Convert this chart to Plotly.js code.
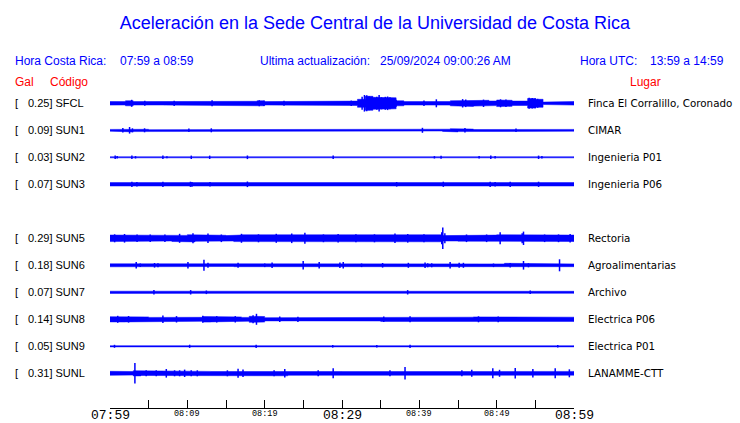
<!DOCTYPE html>
<html>
<head>
<meta charset="utf-8">
<script src="https://cdn.plot.ly/plotly-3.0.1.min.js"></script>
<style>html,body{margin:0;padding:0;background:#fff;}#chart{width:740px;height:423px;}</style>
</head>
<body>
<div id="chart"></div>
<script>
// ---------------- DATA ----------------
const rowCodes  = ['SFCL','SUN1','SUN2','SUN3','SUN4','SUN5','SUN6','SUN7','SUN8','SUN9','SUNL'];
const peakGal   = [0.25, 0.09, 0.03, 0.07, null, 0.29, 0.18, 0.07, 0.14, 0.05, 0.31];
const places    = ['Finca El Corralillo, Coronado','CIMAR','Ingenieria P01','Ingenieria P06', null,
                   'Rectoria','Agroalimentarias','Archivo','Electrica P06','Electrica P01','LANAMME-CTT'];
const tickMinutes = [0,10,20,30,40,50,60];
const tickLabels  = ['07:59','08:09','08:19','08:29','08:39','08:49','08:59'];
const minorTickMinutes = [5,15,25,35,45,55];

// Envelope half-amplitude for each 1-minute window (amplitude units)
const env_SFCL = [1.8,1.7,2.5,1.7,1.8,1.7,1.7,1.8,2.2,2.0, 1.8,2.0,1.8,2.3,2.0,1.8,1.8,1.8,2.0,2.5,
                  1.7,2.0,2.2,1.8,2.0,2.0,2.0,1.8,1.7,1.7, 1.8,2.2,4.0,7.0,6.0,6.0,5.5,2.5,1.7,1.8,
                  2.2,2.2,2.0,1.8,2.5,3.2,3.2,2.8,3.0,2.3, 3.3,3.0,2.2,2.2,4.8,4.0,1.2,1.7,1.8,1.8];
const env_SUN1 = [0.9,1.2,1.6,1.3,1.0,0.6,1.1,0.8,0.7,1.0, 1.3,0.6,0.9,1.1,0.7,0.7,0.7,0.6,0.6,0.7,
                  0.8,0.9,1.1,1.0,1.2,0.8,0.7,0.6,0.7,0.7, 0.8,0.6,0.8,0.7,0.6,0.8,0.7,0.7,0.7,0.6,
                  1.1,0.6,0.7,1.1,1.6,1.3,1.2,0.8,0.7,0.7, 0.7,0.9,1.3,0.6,0.7,0.6,0.7,0.6,0.6,0.9];
const env_SUN2 = [0.55,0.55,0.55,0.55,0.55,0.55,0.55,0.55,0.55,0.55, 0.8,0.55,0.8,0.55,0.55,0.55,0.55,0.55,0.55,0.55,
                  0.55,0.55,0.55,0.55,0.55,0.55,0.55,0.55,0.55,0.55, 0.55,0.55,0.55,0.55,0.55,0.55,0.55,0.55,0.55,0.55,
                  0.55,0.55,0.55,0.55,0.55,0.55,0.55,0.55,0.55,0.7, 0.55,0.55,0.55,0.55,0.55,0.55,0.55,0.55,0.55,0.55];
const env_SUN3 = [1.7,1.7,1.7,1.7,1.7,1.7,1.7,1.7,1.7,1.7, 1.8,1.7,1.7,1.7,1.7,1.7,1.7,1.7,1.7,1.7,
                  1.7,1.7,1.7,1.7,1.7,1.7,1.7,1.7,1.7,1.7, 1.7,1.7,1.7,1.7,1.7,1.7,1.7,1.7,1.7,1.7,
                  1.7,1.7,1.7,1.7,1.7,1.7,1.7,1.7,1.7,1.7, 1.7,1.7,1.7,1.7,1.7,1.7,1.7,1.7,1.7,1.7];
const env_SUN5 = [3.3,3.2,2.9,2.9,2.9,3.0,3.0,2.7,3.2,2.9, 3.6,3.0,3.4,3.0,3.0,2.7,3.3,3.5,3.4,3.2,
                  3.2,3.5,3.3,3.5,3.6,3.6,3.3,3.0,2.9,3.3, 3.2,3.3,3.0,3.3,3.2,3.2,3.4,3.2,3.3,3.0,
                  3.3,3.3,3.5,2.7,2.7,2.9,3.0,3.0,3.0,3.2, 3.5,3.0,3.1,3.6,3.3,3.0,3.0,3.0,3.1,3.2];
const env_SUN6 = [1.5,1.5,1.4,1.5,1.4,1.4,1.4,1.4,1.4,1.4, 1.5,1.4,1.5,1.4,1.3,1.2,1.4,1.4,1.4,1.4,
                  1.4,1.4,1.4,1.4,1.4,1.4,1.4,1.4,1.4,1.3, 1.4,1.3,1.4,1.4,1.4,1.8,1.4,1.4,1.4,1.4,
                  1.4,1.5,1.4,1.4,1.4,1.5,1.4,1.4,1.4,1.4, 1.4,2.0,1.4,1.8,1.5,1.4,1.4,1.4,1.4,1.4];
const env_SUN7 = [1.1,1.0,1.1,1.1,1.0,1.1,1.1,1.1,1.0,1.1, 1.1,1.0,1.1,1.1,1.1,1.0,1.1,1.1,1.1,1.1,
                  1.1,1.1,1.1,1.1,1.1,1.0,1.1,1.1,1.0,1.1, 1.1,1.1,1.0,1.1,1.1,1.1,1.1,1.1,1.0,1.1,
                  1.1,1.0,1.1,1.1,1.0,1.1,1.1,1.0,1.1,1.1, 1.0,1.1,1.1,1.1,1.0,1.1,1.0,1.1,1.1,1.0];
const env_SUN8 = [2.6,2.7,2.6,2.6,2.4,1.9,2.1,2.6,2.6,2.5, 2.4,2.0,2.8,2.6,2.3,2.6,2.4,1.9,3.0,2.8,
                  1.6,2.1,1.9,1.7,2.1,1.9,1.9,1.7,1.9,1.7, 1.7,1.7,1.9,1.7,1.7,2.1,2.2,1.9,2.0,1.9,
                  1.9,1.9,1.9,1.8,2.0,2.0,2.1,2.4,2.3,2.2, 2.5,2.3,2.1,1.9,2.1,2.1,1.9,2.1,2.0,2.1];
const env_SUN9 = [0.6,0.9,1.1,0.9,0.8,0.8,0.9,1.0,0.6,0.8, 1.1,0.9,1.1,0.8,0.6,0.6,0.9,0.9,0.9,1.0,
                  0.7,1.0,0.6,0.7,0.6,0.6,0.6,0.6,0.8,0.6, 0.6,0.6,0.6,0.6,0.8,0.6,0.6,0.6,0.9,0.8,
                  0.6,0.9,0.6,0.8,0.6,1.0,0.9,1.0,0.9,0.9, 0.6,0.8,0.6,0.8,1.0,0.9,0.6,0.8,0.6,0.6];
const env_SUNL = [2.0,2.0,1.8,2.6,2.2,2.0,2.2,2.3,2.2,2.3, 2.2,2.3,1.9,1.8,1.8,2.0,2.5,2.4,1.9,2.0,
                  1.9,2.1,2.5,2.0,1.9,1.9,2.0,1.9,2.2,1.8, 1.7,1.7,1.7,1.7,1.7,1.8,1.8,1.7,2.2,1.9,
                  1.8,1.8,1.7,1.8,1.8,2.2,2.2,1.8,1.8,2.0, 1.9,1.8,1.9,1.8,2.0,1.8,1.8,1.9,1.8,1.9];

// Individual peaks: [minute, half-amplitude]
const spk_SFCL = [[2.8,3.5],[4.5,2.5],[8.3,2.6],[13.2,3.0],[19.3,3.0],[19.9,2.6],[22.5,2.5],[31.2,2.7],
                  [32.6,6.5],[32.9,8.3],[33.2,8.0],[33.5,7.0],[33.8,5.0],[34.2,5.5],[34.5,6.5],[34.8,8.3],
                  [35.1,6.0],[35.6,6.5],[35.9,6.8],[36.2,6.0],[36.6,4.5],[37.0,3.5],[40.6,2.8],[42.2,4.0],
                  [45.6,4.2],[46.0,3.8],[48.3,3.7],[50.5,4.0],[51.2,3.8],[54.2,5.5],[54.6,5.3],[55.0,5.0],[55.3,4.5]];
const spk_SUN1 = [[1.66,2.3],[2.53,3.3],[2.9,2.0],[4.47,2.0],[10.2,1.8],[13.1,2.0],[40.4,2.5],[45.9,2.2],[52.5,1.8]];
const spk_SUN2 = [[0.67,1.7],[0.93,1.2],[2.83,1.8],[3.30,1.2],[6.84,1.8],[7.36,1.0],[10.51,1.7],[12.89,1.7],
                  [17.77,1.8],[28.86,1.8],[41.95,1.2],[42.81,1.5],[47.73,1.2],[49.24,1.8],[49.80,1.3],[55.42,1.7],[55.85,1.2]];
const spk_SUN3 = [[2.83,2.6],[3.48,2.2],[6.84,2.6],[10.4,2.6],[10.6,2.4],[12.93,2.3],[17.77,2.8],[37.07,2.3],
                  [43.1,2.6],[49.16,2.6],[49.8,2.3],[51.75,2.6],[55.42,2.6]];
const spk_SUN5 = [[0.6,4.0],[1.88,4.3],[3.5,3.8],[5.2,3.8],[7.1,3.8],[9.0,4.5],[10.73,5.0],[12.67,4.8],
                  [14.4,3.8],[17.0,4.5],[19.2,4.0],[21.5,4.5],[23.5,4.8],[25.2,5.5],[27.6,3.9],[29.5,4.3],
                  [31.8,4.0],[34.2,4.0],[36.85,4.8],[38.5,4.3],[40.6,4.0],[42.9,6.0],[43.03,10.7],[43.3,5.0],
                  [46.1,3.8],[48.7,3.8],[50.45,6.0],[53.3,5.0],[53.47,6.7],[56.2,3.8],[58.0,3.9],[59.5,4.3]];
const spk_SUN6 = [[3.39,3.3],[3.91,1.8],[5.76,2.3],[6.20,2.0],[10.08,3.3],[12.15,5.5],[12.67,2.5],[16.56,2.5],
                  [20.01,1.8],[20.96,2.7],[24.98,4.3],[27.05,3.3],[29.73,2.7],[30.16,3.3],[32.53,1.8],[35.25,2.3],
                  [38.58,2.5],[40.74,2.7],[41.08,2.0],[41.6,2.0],[43.98,3.3],[45.15,2.5],[45.7,2.5],[49.59,1.8],
                  [51.75,2.3],[53.47,4.3],[54.11,2.0],[58.13,6.0]];
const spk_SUN7 = [[5.68,2.2],[10.43,2.2],[12.46,1.8],[38.49,2.2],[54.34,1.7]];
const spk_SUN8 = [[1.0,3.5],[2.4,3.3],[6.84,3.8],[8.6,3.2],[12.0,3.5],[13.8,3.2],[16.2,3.2],[18.5,4.0],[18.94,5.5],
                  [21.95,2.8],[24.3,2.6],[35.4,2.7],[38.8,3.0],[47.65,3.0],[50.2,2.9]];
const spk_SUN9 = [[0.58,1.5],[10.3,1.6],[18.9,1.6],[28.8,1.3],[34.5,1.3],[38.8,1.6],[57.9,1.3]];
const spk_SUNL = [[3.22,10.3],[4.68,3.0],[5.98,3.0],[7.28,4.3],[8.35,3.0],[9.0,3.0],[9.65,3.7],[10.5,3.0],
                  [11.29,3.0],[15.18,3.0],[16.56,4.5],[17.2,3.8],[21.22,3.0],[22.6,4.3],[26.92,3.0],[28.86,5.0],
                  [36.2,3.0],[38.15,6.3],[45.5,3.0],[46.78,3.5],[49.5,5.0],[50.37,3.5],[52.4,5.3],[54.68,4.3],
                  [57.57,5.0],[59.4,4.0]];

const envByRow = [env_SFCL, env_SUN1, env_SUN2, env_SUN3, null, env_SUN5, env_SUN6, env_SUN7, env_SUN8, env_SUN9, env_SUNL];
const spkByRow = [spk_SFCL, spk_SUN1, spk_SUN2, spk_SUN3, null, spk_SUN5, spk_SUN6, spk_SUN7, spk_SUN8, spk_SUN9, spk_SUNL];

// ---------------- DRAWING ----------------
const BLUE = '#0000ff', RED = '#ff0000';
const AMP_PER_ROW = 27;           // amplitude units per row spacing
const L = 110, R = 574, T = 76, B = 408;
const px2x = p => (p - L) / (R - L);
const py2y = p => (B - p) / (B - T);

const traces = [];
envByRow.forEach((env, r) => {
  if (!env) return;
  const base = -r;
  const xs = [], ys = [];
  env.forEach((a, i) => { xs.push(i, i + 1); ys.push(base + a / AMP_PER_ROW, base + a / AMP_PER_ROW); });
  for (let i = env.length - 1; i >= 0; i--) { xs.push(i + 1, i); ys.push(base - env[i] / AMP_PER_ROW, base - env[i] / AMP_PER_ROW); }
  traces.push({type:'scatter', mode:'lines', x:xs, y:ys, fill:'toself', fillcolor:BLUE,
               line:{color:BLUE, width:0.5}, hoverinfo:'skip', showlegend:false});
  const sx = [], sy = [];
  spkByRow[r].forEach(([t, a]) => { sx.push(t, t, null); sy.push(base - a / AMP_PER_ROW, base + a / AMP_PER_ROW, null); });
  traces.push({type:'scatter', mode:'lines', x:sx, y:sy, line:{color:BLUE, width:1.5},
               hoverinfo:'skip', showlegend:false, connectgaps:false});
});

const ann = [];
const sans = 'Liberation Sans, Arial, sans-serif';
function txt(x, y, text, opts) {
  return Object.assign({x:x, y:y, xref:'paper', yref:'paper', text:text, showarrow:false,
    xanchor:'left', yanchor:'middle', borderpad:0, font:{family:sans, size:12, color:BLUE}}, opts || {});
}
// header
ann.push(txt(px2x(14), py2y(61.5), 'Hora Costa Rica:'));
ann.push(txt(px2x(119), py2y(61.5), '07:59 a 08:59'));
ann.push(txt(px2x(259), py2y(61.5), 'Ultima actualización:'));
ann.push(txt(px2x(379), py2y(61.5), '25/09/2024 09:00:26 AM'));
ann.push(txt(px2x(579), py2y(61.5), 'Hora UTC:'));
ann.push(txt(px2x(649), py2y(61.5), '13:59 a 14:59'));
ann.push(txt(px2x(14), py2y(81.5), 'Gal', {font:{family:sans, size:12, color:RED}}));
ann.push(txt(px2x(49), py2y(81.5), 'Código', {font:{family:sans, size:12, color:RED}}));
ann.push(txt(px2x(629), py2y(81.5), 'Lugar', {font:{family:sans, size:12, color:RED}}));

// row labels
rowCodes.forEach((c, r) => {
  if (peakGal[r] == null) return;
  ann.push(txt(px2x(14), -r, '[', {yref:'y', font:{family:sans, size:11, color:'#000'}}));
  ann.push(txt(px2x(26.5), -r, peakGal[r].toFixed(2) + '] ' + c, {yref:'y', font:{family:sans, size:11, color:'#000'}}));
  ann.push(txt(px2x(586.5), -r, places[r], {yref:'y', font:{family:'DejaVu Sans, sans-serif', size:10.3, color:'#000'}}));
});

// time labels
tickMinutes.forEach((m, i) => {
  const big = (i % 3 === 0);
  ann.push({x:m, y: big ? py2y(415.5) : py2y(414), xref:'x', yref:'paper', text:tickLabels[i], showarrow:false,
    xanchor:'center', yanchor:'middle', borderpad:0,
    font:{family:'Liberation Mono, DejaVu Sans Mono, monospace', size: big ? 13 : 8.5, color:'#000'}});
});

const layout = {
  width:740, height:423,
  margin:{l:L, r:740 - R, t:T, b:423 - B, pad:0},
  paper_bgcolor:'#fff', plot_bgcolor:'#fff',
  title:{text:'Aceleración en la Sede Central de la Universidad de Costa Rica',
         font:{family:sans, size:18, color:BLUE}, x:375/740, xanchor:'center', xref:'container',
         y:1 - 22.5/423, yanchor:'middle', yref:'container'},
  xaxis:{range:[0,60], showgrid:false, zeroline:false, showline:true, linecolor:'#000', linewidth:1,
         ticks:'inside', ticklen:8, tickwidth:1, tickcolor:'#000', tickmode:'array',
         tickvals: tickMinutes.concat(minorTickMinutes), showticklabels:false, fixedrange:true},
  yaxis:{range:[-(B - 103.3) / 27, -(T - 103.3) / 27], visible:false, showgrid:false, zeroline:false, fixedrange:true},
  annotations: ann,
  showlegend:false
};

Plotly.newPlot('chart', traces, layout, {staticPlot:true, displayModeBar:false});
</script>
</body>
</html>
